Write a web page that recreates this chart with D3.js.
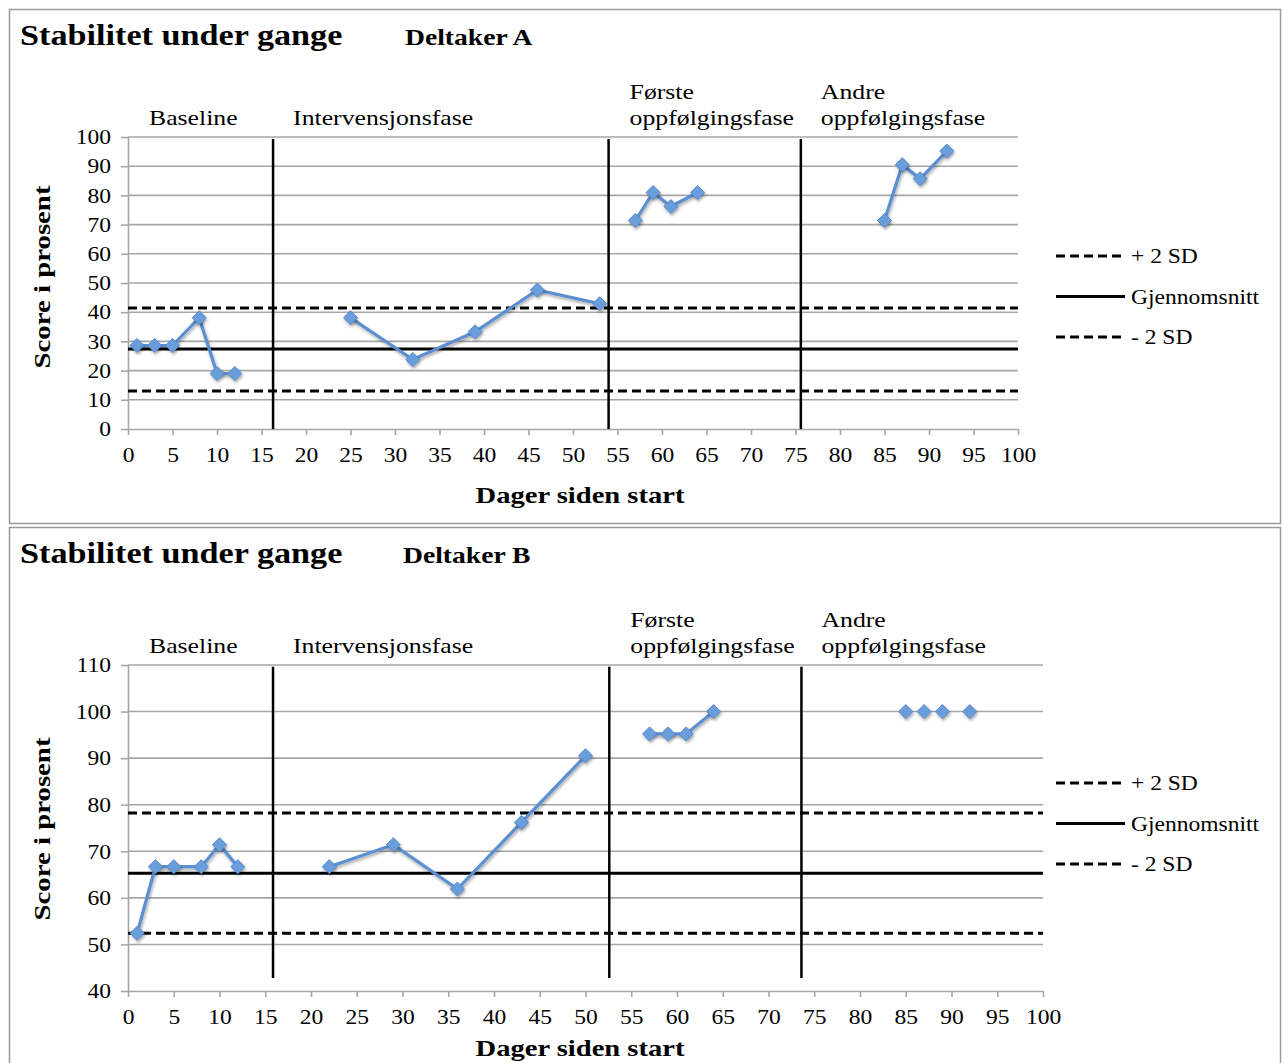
<!DOCTYPE html>
<html>
<head>
<meta charset="utf-8">
<script src="https://cdn.jsdelivr.net/npm/d3@7"></script>
<style>
  html, body { margin: 0; padding: 0; background: #fff; }
  svg { display: block; }
  text { font-family: "Liberation Serif", "Times New Roman", serif; fill: #000; }
</style>
</head>
<body>
<svg id="chart" width="1284" height="1063"></svg>
<script>
// ---- Data: days since start and score (%) for each participant ----
const xTicks = d3.range(0, 101, 5);

// Deltaker A
const aDays   = [1, 3, 5, 8, 10, 12, 25, 32, 39, 46, 53, 57, 59, 61, 64, 85, 87, 89, 92];
const aScores = [28.6, 28.6, 28.6, 38.1, 19.0, 19.0, 38.1, 23.8, 33.3, 47.6, 42.9, 71.4, 81.0, 76.2, 81.0, 71.4, 90.5, 85.7, 95.2];
const aPhase  = [0, 0, 0, 0, 0, 0, 1, 1, 1, 1, 1, 2, 2, 2, 2, 3, 3, 3, 3];
const aPhaseBreaks = [16.3, 54.0, 75.6];
const aMean = 27.4, aPlus2SD = 41.4, aMinus2SD = 13.0;
const aYTicks = d3.range(0, 101, 10);

// Deltaker B
const bDays   = [1, 3, 5, 8, 10, 12, 22, 29, 36, 43, 50, 57, 59, 61, 64, 85, 87, 89, 92];
const bScores = [52.4, 66.7, 66.7, 66.7, 71.4, 66.7, 66.7, 71.4, 61.9, 76.2, 90.5, 95.2, 95.2, 95.2, 100, 100, 100, 100, 100];
const bPhase  = [0, 0, 0, 0, 0, 0, 1, 1, 1, 1, 1, 2, 2, 2, 2, 3, 3, 3, 3];
const bPhaseBreaks = [15.85, 52.6, 73.6];
const bMean = 65.3, bPlus2SD = 78.2, bMinus2SD = 52.4;
const bYTicks = d3.range(40, 111, 10);

const phaseNames = [["Baseline"], ["Intervensjonsfase"], ["Første", "oppfølgingsfase"], ["Andre", "oppfølgingsfase"]];
const legendLabels = ["+ 2 SD", "Gjennomsnitt", "- 2 SD"];
const chartTitle = "Stabilitet under gange";
const xTitle = "Dager siden start";
const yTitle = "Score i prosent";

const svg = d3.select("#chart");

// stretch a text node horizontally by a factor (the serif face here is narrower than the design face)
function widen(sel, k) {
  sel.each(function () {
    const len = this.getComputedTextLength();
    d3.select(this).attr("textLength", len * k).attr("lengthAdjust", "spacingAndGlyphs");
  });
  return sel;
}

// soft drop shadow used under the markers
const defs = svg.append("defs");
const f = defs.append("filter").attr("id", "shadow").attr("x", "-50%").attr("y", "-50%").attr("width", "200%").attr("height", "200%");
f.append("feDropShadow").attr("dx", 1).attr("dy", 2).attr("stdDeviation", 1.5).attr("flood-color", "#000").attr("flood-opacity", 0.35);

function drawPanel(cfg) {
  const g = svg.append("g");

  // panel frame
  g.append("rect")
    .attr("x", 9.5).attr("y", cfg.top + 0.5)
    .attr("width", 1271).attr("height", cfg.frameH)
    .attr("fill", "none").attr("stroke", "#9a9a9a").attr("stroke-width", 1.5);

  widen(g.append("text").attr("x", 20).attr("y", cfg.top + 36)
    .attr("font-size", 30).attr("font-weight", "bold").text(chartTitle), 1.14);
  widen(g.append("text").attr("x", cfg.subX).attr("y", cfg.top + 36)
    .attr("font-size", 23).attr("font-weight", "bold").text(cfg.sub), 1.2);

  const x = d3.scaleLinear().domain([0, 100]).range([128, cfg.xRight]);
  const y = d3.scaleLinear().domain(cfg.yDomain).range([cfg.plotBottom, cfg.plotTop]);

  // horizontal gridlines
  g.append("g").selectAll("line").data(cfg.yTicks.slice(1)).join("line")
    .attr("x1", 128).attr("x2", cfg.xRight)
    .attr("y1", d => y(d)).attr("y2", d => y(d))
    .attr("stroke", "#a6a6a6").attr("stroke-width", 1.6);

  // y axis
  const ya = g.append("g").attr("transform", "translate(128,0)")
    .call(d3.axisLeft(y).tickValues(cfg.yTicks).tickSize(7).tickPadding(10).tickSizeOuter(0));
  ya.select(".domain").attr("stroke", "#a6a6a6").attr("stroke-width", 1.6);
  ya.selectAll(".tick line").attr("stroke", "#a6a6a6").attr("stroke-width", 1.6);
  widen(ya.selectAll(".tick text").attr("font-size", 21).attr("font-family", "Liberation Serif").attr("fill", "#000"), 1.12);

  // x axis
  const xa = g.append("g").attr("transform", `translate(0,${cfg.plotBottom})`)
    .call(d3.axisBottom(x).tickValues(xTicks).tickSize(6).tickPadding(12).tickSizeOuter(0));
  xa.select(".domain").attr("stroke", "#a6a6a6").attr("stroke-width", 1.6);
  xa.selectAll(".tick line").attr("stroke", "#a6a6a6").attr("stroke-width", 1.6);
  widen(xa.selectAll(".tick text").attr("font-size", 21).attr("font-family", "Liberation Serif").attr("fill", "#000"), 1.12);

  // mean and ±2 SD reference lines
  const refs = [
    { v: cfg.plus, dash: "9,5" },
    { v: cfg.mean, dash: null },
    { v: cfg.minus, dash: "9,5" }
  ];
  g.append("g").selectAll("line").data(refs).join("line")
    .attr("x1", x(0)).attr("x2", x(100))
    .attr("y1", d => y(d.v)).attr("y2", d => y(d.v))
    .attr("stroke", "#000").attr("stroke-width", 3)
    .attr("stroke-dasharray", d => d.dash);

  // phase change lines
  g.append("g").selectAll("line").data(cfg.breaks).join("line")
    .attr("x1", d => x(d)).attr("x2", d => x(d))
    .attr("y1", y(cfg.breakTop)).attr("y2", y(cfg.breakBottom))
    .attr("stroke", "#000").attr("stroke-width", 2.5);

  // phase labels
  const labelX = [x(0) + 21, x(cfg.breaks[0]) + 20, x(cfg.breaks[1]) + 21, x(cfg.breaks[2]) + 20];
  phaseNames.forEach((lines, i) => {
    lines.forEach((t, j) => {
      widen(g.append("text")
        .attr("x", labelX[i])
        .attr("y", cfg.plotTop - 12 - (lines.length - 1 - j) * 26)
        .attr("font-size", 22).text(t), 1.17);
    });
  });

  // series: one line per phase
  const pts = cfg.days.map((d, i) => ({ d, v: cfg.scores[i], p: cfg.phase[i] }));
  const groups = d3.groups(pts, p => p.p);
  const line = d3.line().x(p => x(p.d)).y(p => y(p.v));
  g.append("g").selectAll("path").data(groups).join("path")
    .attr("d", gp => line(gp[1]))
    .attr("fill", "none").attr("stroke", "#5b8fd1").attr("stroke-width", 3.2)
    .attr("filter", "url(#shadow)");

  const diamond = d3.symbol().type(d3.symbolDiamond2).size(125);
  g.append("g").selectAll("path").data(pts).join("path")
    .attr("d", diamond)
    .attr("transform", p => `translate(${x(p.d)},${y(p.v)})`)
    .attr("fill", "#6b9ddc").attr("stroke", "#5588cc").attr("stroke-width", 1)
    .attr("filter", "url(#shadow)");

  // legend
  const lg = g.append("g");
  refs.forEach((r, i) => {
    const ly = cfg.legendY + i * 40.5;
    lg.append("line").attr("x1", 1056).attr("x2", 1125).attr("y1", ly).attr("y2", ly)
      .attr("stroke", "#000").attr("stroke-width", 3).attr("stroke-dasharray", r.dash);
    widen(lg.append("text").attr("x", 1131).attr("y", ly + 7).attr("font-size", 21).text(legendLabels[i]), 1.12);
  });

  // axis titles
  widen(g.append("text").attr("x", 580).attr("y", cfg.xTitleY)
    .attr("text-anchor", "middle").attr("font-size", 24).attr("font-weight", "bold").text(xTitle), 1.19);
  widen(g.append("text")
    .attr("transform", `translate(50,${cfg.yTitleY}) rotate(-90)`)
    .attr("text-anchor", "middle").attr("font-size", 24).attr("font-weight", "bold").text(yTitle), 1.2);
}

drawPanel({
  top: 9, frameH: 514, sub: "Deltaker A", subX: 405,
  xRight: 1018, plotTop: 137, plotBottom: 429, yDomain: [0, 100], yTicks: aYTicks,
  days: aDays, scores: aScores, phase: aPhase, breaks: aPhaseBreaks,
  breakTop: 99.3, breakBottom: 0,
  mean: aMean, plus: aPlus2SD, minus: aMinus2SD,
  legendY: 256, xTitleY: 503, yTitleY: 277
});

drawPanel({
  top: 527, frameH: 545, sub: "Deltaker B", subX: 403,
  xRight: 1043, plotTop: 665, plotBottom: 991, yDomain: [40, 110], yTicks: bYTicks,
  days: bDays, scores: bScores, phase: bPhase, breaks: bPhaseBreaks,
  breakTop: 109.6, breakBottom: 42.8,
  mean: bMean, plus: bPlus2SD, minus: bMinus2SD,
  legendY: 783, xTitleY: 1056, yTitleY: 829
});
</script>
</body>
</html>
